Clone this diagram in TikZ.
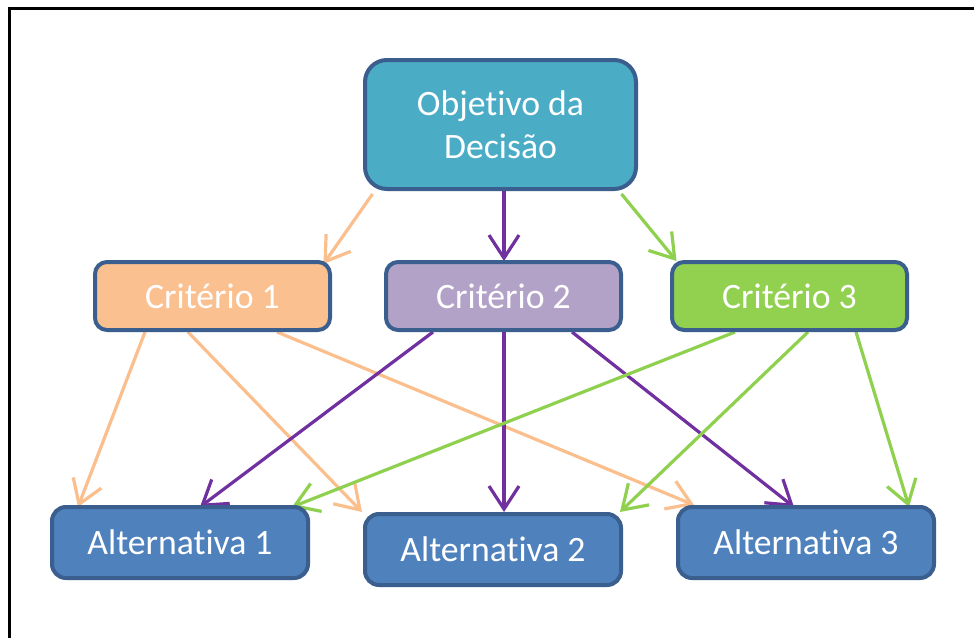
\documentclass[tikz,border=0pt]{standalone}
\usepackage{fontspec}
\setmainfont[Ligatures={NoCommon,NoRequired,NoContextual},RawFeature={-liga;-clig;-calt;-dlig}]{Carlito}
\usetikzlibrary{arrows.meta,backgrounds}
\definecolor{topfill}{HTML}{4BACC6}
\definecolor{boxline}{HTML}{3A5F8E}
\definecolor{c1fill}{HTML}{FAC090}
\definecolor{c2fill}{HTML}{B3A2C7}
\definecolor{c3fill}{HTML}{92D050}
\definecolor{altfill}{HTML}{4F81BD}
\definecolor{altline}{HTML}{3A5F8E}
\definecolor{orangeA}{HTML}{FBBF8E}
\definecolor{purpleA}{HTML}{7030A0}
\definecolor{greenA}{HTML}{8FD14F}
\tikzset{
  box/.style={draw=boxline, line width=4pt, text=white, align=center,
    font=\fontsize{35.7}{43}\selectfont, inner sep=0pt},
  topbox/.style={box, fill=topfill, rounded corners=22pt, minimum width=271pt, minimum height=129pt},
  critbox/.style={box, rounded corners=12pt, minimum width=235pt, minimum height=68pt},
  altbox/.style={box, fill=altfill, draw=altline, rounded corners=14pt, minimum width=256pt, minimum height=71pt},
  conn/.style={line width=3.2pt, -{Straight Barb[length=23pt,width=30pt,line width=3.2pt]}},
  oconn/.style={conn, draw=orangeA},
  pconn/.style={conn, draw=purpleA},
  gconn/.style={conn, draw=greenA},
}
\begin{document}
\begin{tikzpicture}[x=1pt,y=-1pt]
\useasboundingbox (0,0) rectangle (974,637);

\node[topbox] (top) at (500.5,124.5) {Objetivo da\\Decisão};
\node[critbox, fill=c1fill] (c1) at (212.5,296) {Critério 1};
\node[critbox, fill=c2fill] (c2) at (503.5,296) {Critério 2};
\node[critbox, fill=c3fill] (c3) at (789.5,296) {Critério 3};
\node[altbox] (a1) at (180,542.5) {Alternativa 1};
\node[altbox] (a2) at (493,549.5) {Alternativa 2};
\node[altbox] (a3) at (806,542.5) {Alternativa 3};

\begin{scope}[on background layer]
\fill[white] (0,0) rectangle (974,637);
\draw[line width=3pt, black] (9,640) -- (9,8) -- (977,8);

\draw[oconn] ([xshift=-128pt,yshift=-3pt]top.south) -- ([xshift=111pt,yshift=-4pt]c1.north);
\draw[pconn] ([xshift=3.5pt]top.south) -- ([xshift=0.5pt,yshift=-1pt]c2.north);
\draw[gconn] ([xshift=121pt,yshift=-3pt]top.south) -- ([xshift=-113pt,yshift=-1pt]c3.north);

\draw[oconn] ([xshift=-67.5pt]c1.south) -- ([xshift=-102pt,yshift=-2pt]a1.north);
\draw[oconn] ([xshift=-24.5pt]c1.south) -- ([xshift=-131pt]a2.north);
\draw[oconn] ([xshift=64.5pt]c1.south) -- ([xshift=-112pt]a3.north);

\draw[pconn] ([xshift=-70.5pt]c2.south) -- ([xshift=20pt,yshift=-2pt]a1.north);
\draw[pconn] ([xshift=0.5pt]c2.south) -- ([xshift=11pt]a2.north);
\draw[pconn] ([xshift=68.5pt]c2.south) -- ([xshift=-12pt,yshift=-2pt]a3.north);

\draw[gconn] ([xshift=-54.5pt]c3.south) -- ([xshift=112pt,yshift=-2pt]a1.north);
\draw[gconn] ([xshift=18.5pt]c3.south) -- ([xshift=127pt]a2.north);
\draw[gconn] ([xshift=66.5pt]c3.south) -- ([xshift=103pt,yshift=-2pt]a3.north);
\end{scope}
\end{tikzpicture}
\end{document}
